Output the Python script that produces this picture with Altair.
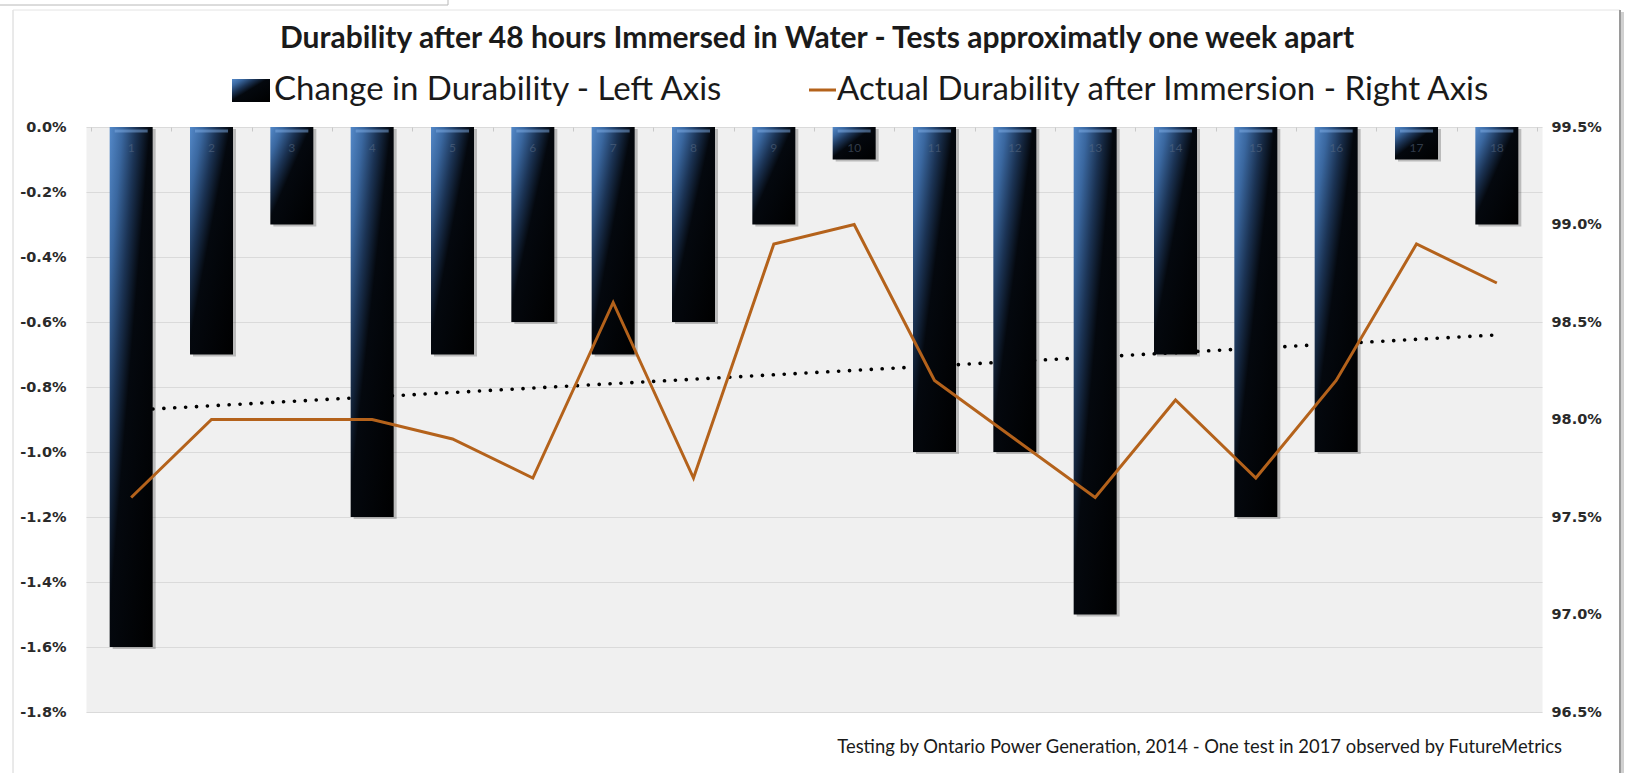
import altair as alt
import pandas as pd

# ---- data -------------------------------------------------------------
tests = [1, 2, 3, 4, 5, 6, 7, 8, 9, 10, 11, 12, 13, 14, 15, 16, 17, 18]
change_pct = [-1.6, -0.7, -0.3, -1.2, -0.7, -0.6, -0.7, -0.6, -0.3,
              -0.1, -1.0, -1.0, -1.5, -0.7, -1.2, -1.0, -0.1, -0.3]
durability_pct = [97.6, 98.0, 98.0, 98.0, 97.9, 97.7, 98.6, 97.7, 98.9,
                  99.0, 98.2, 97.9, 97.6, 98.1, 97.7, 98.2, 98.9, 98.7]

left_ticks = [0.0, -0.2, -0.4, -0.6, -0.8, -1.0, -1.2, -1.4, -1.6, -1.8]
right_ticks = [99.5, 99.0, 98.5, 98.0, 97.5, 97.0, 96.5]
band_edges = [0.5, 1.5, 2.5, 3.5, 4.5, 5.5, 6.5, 7.5, 8.5, 9.5,
              10.5, 11.5, 12.5, 13.5, 14.5, 15.5, 16.5, 17.5, 18.5]

title_text = "Durability after 48 hours Immersed in Water - Tests approximatly one week apart"
legend_bar_text = "Change in Durability - Left Axis"
legend_line_text = "Actual Durability after Immersion - Right Axis"
footer_text = "Testing by Ontario Power Generation, 2014 - One test in 2017 observed by FutureMetrics"

df = pd.DataFrame({"test": tests, "change": change_pct, "durability": durability_pct})
one = pd.DataFrame({"k": [0]})

# ---- styling ----------------------------------------------------------
W, H = 1456, 585
FONT = "Lato"
AXIS_FONT = "DejaVu Sans"
ORANGE = "#b4621b"
BAR_W = 43

bar_fill = alt.Gradient(
    gradient="linear",
    stops=[
        alt.GradientStop(color="#5489c9", offset=0.0),
        alt.GradientStop(color="#3a679f", offset=0.15),
        alt.GradientStop(color="#1b3354", offset=0.31),
        alt.GradientStop(color="#04080e", offset=0.47),
        alt.GradientStop(color="#000000", offset=1.0),
    ],
    x1=0, y1=0, x2=1, y2=1,
)

x_enc = alt.X(
    "test:Q",
    scale=alt.Scale(domain=[0.5, 18.5], nice=False, zero=False),
    axis=alt.Axis(values=band_edges, labels=False, domain=False, grid=False,
                  ticks=True, tickSize=4, tickColor="#c9c9c9", tickWidth=1,
                  orient="bottom", offset=-H, title=None),
)

y_left = alt.Y(
    "change:Q",
    scale=alt.Scale(domain=[-1.8, 0], nice=False, zero=True),
    axis=alt.Axis(values=left_ticks, grid=True, gridColor="#dadada", gridWidth=1.2,
                  domain=False, ticks=False, labelPadding=20, title=None,
                  labelExpr="(datum.value < 0 ? '-' : '') + format(abs(datum.value), '.1f') + '%'"),
)

y_right = alt.Y(
    "durability:Q",
    scale=alt.Scale(domain=[96.5, 99.5], nice=False, zero=False),
    axis=alt.Axis(orient="right", values=right_ticks, grid=False, domain=False,
                  ticks=False, labelPadding=9, title=None,
                  labelExpr="format(datum.value, '.1f') + '%'"),
)

base = alt.Chart(df)

# dotted linear trend of the change values, drawn behind the bars
trend = base.transform_regression("test", "change").mark_line(
    color="black", strokeWidth=3.6, strokeDash=[0.1, 10.8], strokeCap="round"
).encode(x=x_enc, y=y_left)

shadow = base.mark_bar(width=BAR_W, xOffset=3, yOffset=2, color="#000000", opacity=0.22).encode(
    x=x_enc, y=y_left
)

bars = base.mark_bar(width=BAR_W, color=bar_fill).encode(x=x_enc, y=y_left)

# bevel highlight along the top of each bar
cap = base.mark_tick(orient="horizontal", size=BAR_W - 10, thickness=3,
                     color="#80aee6", opacity=0.5).encode(x=x_enc, y=alt.value(4))

bar_numbers = base.mark_text(font=FONT, fontSize=12, color="#5f7088", opacity=0.5,
                             baseline="middle").encode(
    x=x_enc, y=alt.value(21), text="test:Q"
)

left_group = alt.layer(trend, shadow, bars, cap, bar_numbers)

line = base.mark_line(color=ORANGE, strokeWidth=3).encode(x=x_enc, y=y_right)

# ---- titles, legend, footer and frame ----------------------------------
ann = alt.Chart(one)

title = ann.mark_text(text=title_text, font=FONT, fontSize=30, fontWeight="bold",
                      color="#1a1a1a", align="center", baseline="middle").encode(
    x=alt.value(731), y=alt.value(-88))

leg_box = ann.mark_rect(color=bar_fill).encode(
    x=alt.value(146), x2=alt.value(184), y=alt.value(-48), y2=alt.value(-25))
leg_text1 = ann.mark_text(text=legend_bar_text, font=FONT, fontSize=33, color="#1a1a1a",
                          align="left", baseline="middle").encode(
    x=alt.value(188), y=alt.value(-37))
leg_line = ann.mark_rule(color=ORANGE, strokeWidth=3).encode(
    x=alt.value(723), x2=alt.value(750), y=alt.value(-37))
leg_text2 = ann.mark_text(text=legend_line_text, font=FONT, fontSize=33, color="#1a1a1a",
                          align="left", baseline="middle").encode(
    x=alt.value(751), y=alt.value(-37))

footer = ann.mark_text(text=footer_text, font=FONT, fontSize=18.4, color="#1a1a1a",
                       align="right", baseline="middle").encode(
    x=alt.value(1476), y=alt.value(620))

frame_left = ann.mark_rule(color="#d4d4d4", strokeWidth=1).encode(
    x=alt.value(-73), y=alt.value(-117), y2=alt.value(646))
frame_top = ann.mark_rule(color="#e4e4e4", strokeWidth=1).encode(
    x=alt.value(-73), x2=alt.value(1534), y=alt.value(-117))
frame_right_shadow = ann.mark_rule(color="#d0d0d0", strokeWidth=4).encode(
    x=alt.value(1536), y=alt.value(-115), y2=alt.value(646))
frame_right = ann.mark_rule(color="#9a9a9a", strokeWidth=2).encode(
    x=alt.value(1534), y=alt.value(-117), y2=alt.value(646))
tab_bottom = ann.mark_rule(color="#b8b8b8", strokeWidth=1).encode(
    x=alt.value(-86), x2=alt.value(362), y=alt.value(-122))
tab_side = ann.mark_rule(color="#b8b8b8", strokeWidth=1).encode(
    x=alt.value(362), y=alt.value(-127), y2=alt.value(-122))

chart = alt.layer(
    left_group, line,
    title, leg_box, leg_text1, leg_line, leg_text2, footer,
    frame_left, frame_top, frame_right_shadow, frame_right, tab_bottom, tab_side,
).resolve_scale(y="independent").properties(
    width=W, height=H,
    autosize=alt.AutoSizeParams(type="none"),
    padding={"left": 86, "top": 127, "right": 100, "bottom": 61},
    background="white",
).configure_view(
    fill="#f0f0f0", stroke="transparent"
).configure_axis(
    labelFont=AXIS_FONT, labelFontSize=14.5, labelFontWeight="bold", labelColor="#2a2a2a"
)

chart.save("out.html", embed_options={"renderer": "svg", "actions": False})
